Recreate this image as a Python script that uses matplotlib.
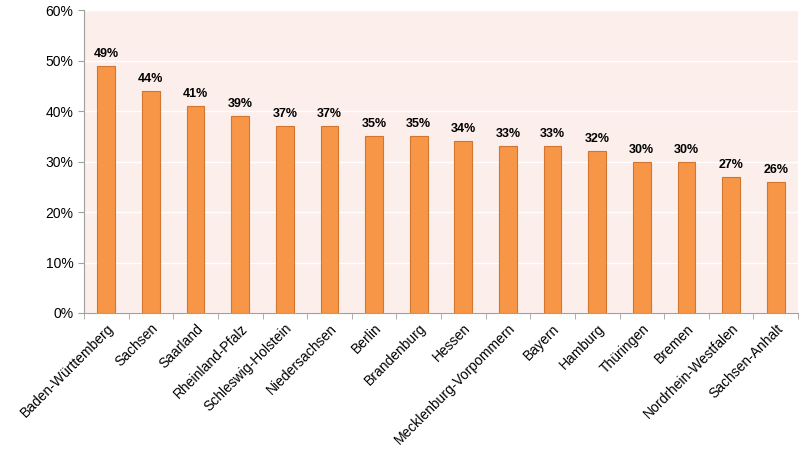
import matplotlib
matplotlib.use("Agg")
import matplotlib.pyplot as plt
from matplotlib.ticker import FixedLocator, NullFormatter

plt.rcParams["font.family"] = ["Liberation Sans", "DejaVu Sans"]

laender = ["Baden-Württemberg", "Sachsen", "Saarland", "Rheinland-Pfalz",
           "Schleswig-Holstein", "Niedersachsen", "Berlin", "Brandenburg",
           "Hessen", "Mecklenburg-Vorpommern", "Bayern", "Hamburg",
           "Thüringen", "Bremen", "Nordrhein-Westfalen", "Sachsen-Anhalt"]
anteil = [49, 44, 41, 39, 37, 37, 35, 35, 34, 33, 33, 32, 30, 30, 27, 26]

fig = plt.figure(figsize=(8, 4.63), dpi=100)
ax = fig.add_axes([0.105, 0.324, 0.8925, 0.654])
ax.set_facecolor("#FCEEEA")

x = range(len(laender))
ax.bar(x, anteil, width=0.4, color="#F79646", edgecolor="#D2752E", linewidth=0.8, zorder=3)
for xi, v in zip(x, anteil):
    ax.text(xi, v + 1.2, f"{v}%", ha="center", va="bottom", fontsize=9,
            fontweight="bold", zorder=4)

ax.set_xlim(-0.5, len(laender) - 0.5)
ax.set_ylim(0, 60)
ax.set_yticks(range(0, 61, 10))
ax.set_yticklabels([f"{t}%" for t in range(0, 61, 10)], fontsize=10)
ax.grid(axis="y", color="white", linewidth=1, zorder=1)

ax.set_xticks(list(x))
ax.set_xticklabels(laender, rotation=45, ha="right", rotation_mode="anchor", fontsize=10)
ax.tick_params(axis="x", which="major", length=0, pad=6)
ax.xaxis.set_minor_locator(FixedLocator([i - 0.5 for i in range(len(laender) + 1)]))
ax.xaxis.set_minor_formatter(NullFormatter())
ax.tick_params(axis="x", which="minor", length=4, color="#A0A0A0")
ax.tick_params(axis="y", length=4, color="#A0A0A0")

for side in ["top", "right"]:
    ax.spines[side].set_visible(False)
for side in ["left", "bottom"]:
    ax.spines[side].set_color("#A0A0A0")

fig.savefig("out.png", dpi=100)
